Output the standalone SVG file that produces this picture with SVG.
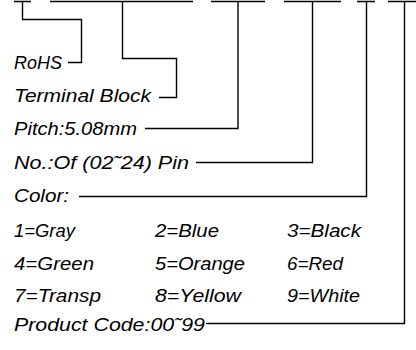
<svg xmlns="http://www.w3.org/2000/svg" width="416" height="350" viewBox="0 0 416 350">
<style>
text{font-family:"Liberation Sans",Arial,sans-serif;font-style:italic;font-size:19px;fill:#000}
.ln{fill:none;stroke:#000;stroke-width:1.4}
</style>
<rect width="416" height="350" fill="#fff"/>
<g id="connectors" class="ln">
<path d="M14 1.5H31M50 1.5H193M211 1.5H265M284 1.5H341M357 1.5H375M388 1.5H416"/>
<path d="M22.5 1.5V19.5H81.5V62.5H68"/>
<path d="M122.5 1.5V58.5H176.5V97.5H159"/>
<path d="M238 1.5V128.5H145"/>
<path d="M312.5 1.5V162.5H196"/>
<path d="M366.5 1.5V196.5H79"/>
<path d="M404.5 1.5V323.5H206"/>
</g>
<g id="rohs"><text x="14" y="69" textLength="48" lengthAdjust="spacingAndGlyphs">RoHS</text></g>
<g id="terminal"><text x="14" y="102" textLength="137" lengthAdjust="spacingAndGlyphs">Terminal Block</text></g>
<g id="pitch"><text x="14" y="135" textLength="123" lengthAdjust="spacingAndGlyphs">Pitch:5.08mm</text></g>
<g id="pins"><text x="14" y="169" textLength="175" lengthAdjust="spacingAndGlyphs">No.:Of (02˜24) Pin</text></g>
<g id="color"><text x="14" y="202" textLength="55" lengthAdjust="spacingAndGlyphs">Color:</text>
<text x="14" y="237" textLength="61" lengthAdjust="spacingAndGlyphs">1=Gray</text>
<text x="155" y="237" textLength="64" lengthAdjust="spacingAndGlyphs">2=Blue</text>
<text x="287" y="237" textLength="74" lengthAdjust="spacingAndGlyphs">3=Black</text>
<text x="14" y="270" textLength="80" lengthAdjust="spacingAndGlyphs">4=Green</text>
<text x="155" y="270" textLength="90" lengthAdjust="spacingAndGlyphs">5=Orange</text>
<text x="287" y="270" textLength="56" lengthAdjust="spacingAndGlyphs">6=Red</text>
<text x="14" y="302" textLength="87" lengthAdjust="spacingAndGlyphs">7=Transp</text>
<text x="155" y="302" textLength="86" lengthAdjust="spacingAndGlyphs">8=Yellow</text>
<text x="287" y="302" textLength="73" lengthAdjust="spacingAndGlyphs">9=White</text></g>
<g id="product"><text x="14" y="331" textLength="191" lengthAdjust="spacingAndGlyphs">Product Code:00˜99</text></g>
</svg>
